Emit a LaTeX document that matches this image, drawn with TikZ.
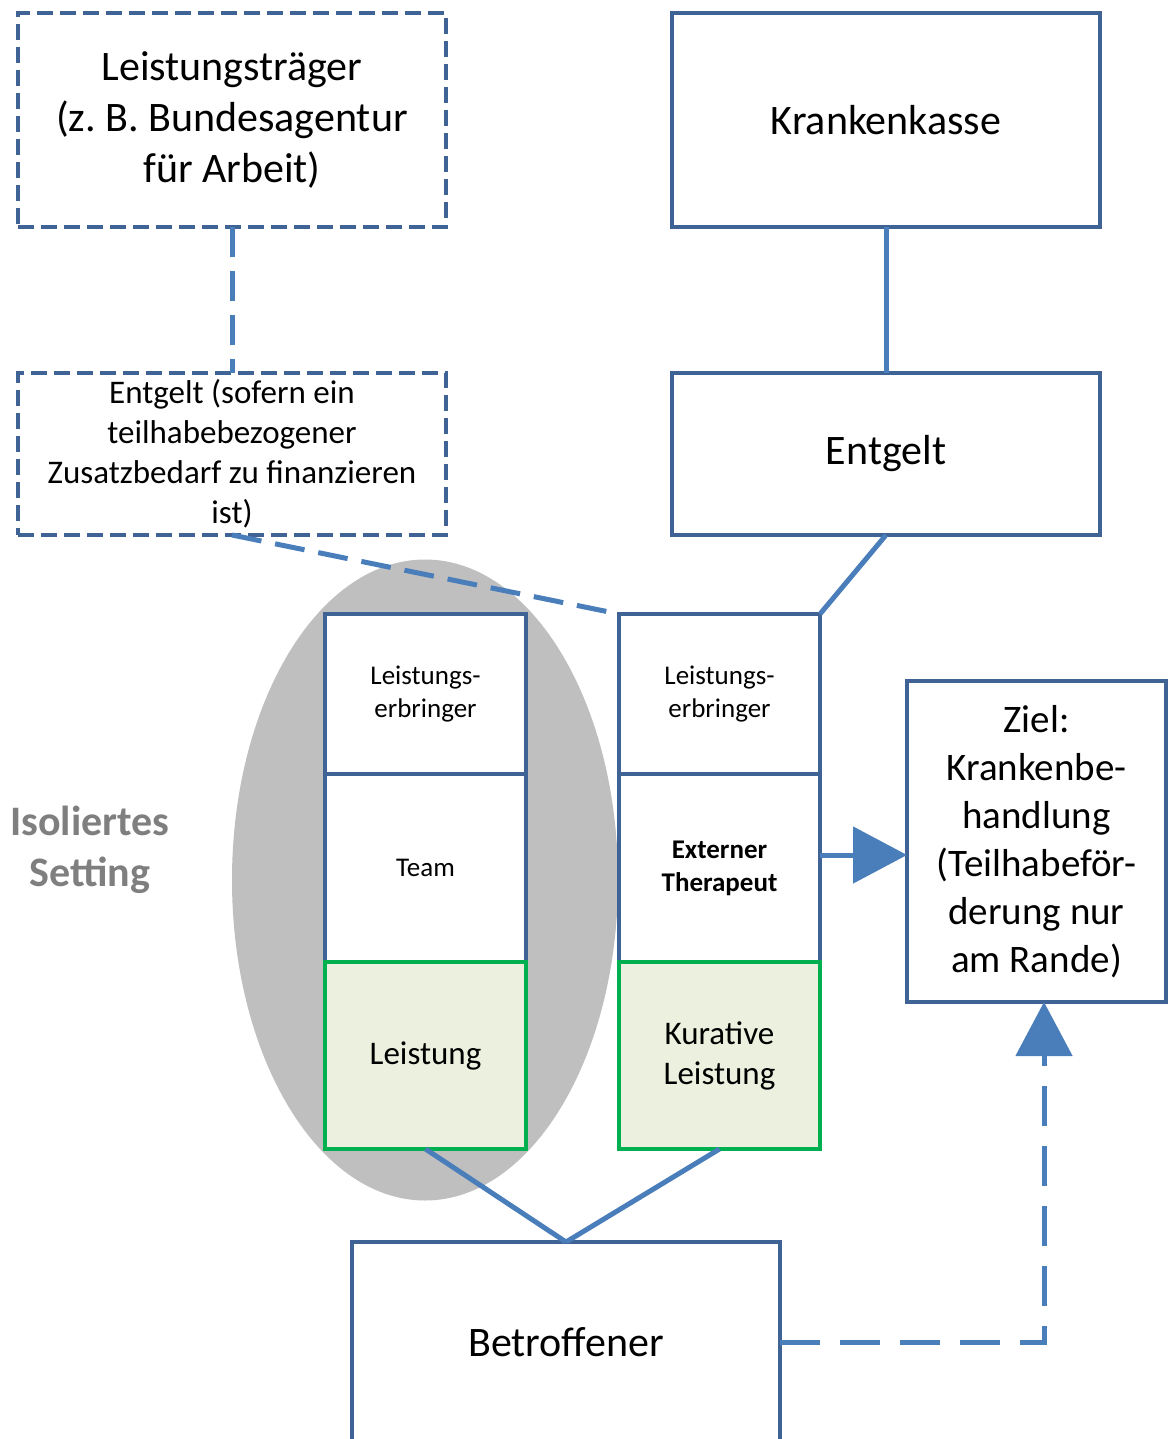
\documentclass[tikz,border=0pt]{standalone}
\usepackage{fontspec}
\setmainfont{Carlito}
\usetikzlibrary{positioning,arrows.meta,shapes.geometric}
\frenchspacing

\definecolor{rahmenblau}{HTML}{3F6394}
\definecolor{linienblau}{HTML}{4A7EBB}
\definecolor{ovalgrau}{HTML}{BFBFBF}
\definecolor{leistgruen}{HTML}{00B050}
\definecolor{leistfill}{HTML}{EBF1DE}
\definecolor{settinggrau}{HTML}{7F7F7F}

\tikzset{
  kasten/.style={draw=rahmenblau, line width=2pt, align=center, inner sep=0pt,
    outer sep=0pt, minimum width=214pt},
  gestrichelt/.style={dash pattern=on 8pt off 3.5pt},
  spalte/.style={kasten, minimum width=100.5pt},
  leistkasten/.style={spalte, draw=leistgruen, fill=leistfill},
  verbindung/.style={draw=linienblau, line width=2.5pt},
  strichverb/.style={verbindung, dash pattern=on 15pt off 7pt},
  gross/.style={font=\fontsize{21}{25.5}\selectfont},
  mittel/.style={font=\fontsize{16.5}{20}\selectfont},
  klein/.style={font=\fontsize{13.5}{16.5}\selectfont},
  pfeil/.style={-{Triangle[width=28pt,length=27pt]}}
}

\begin{document}
\begin{tikzpicture}[x=0.5pt, y=-0.5pt]
  \useasboundingbox (0,0) rectangle (1168,1439);

  % obere Reihe
  \node [kasten, gestrichelt, minimum height=107pt, gross] (traeger) at (232,120)
    {Leistungsträger\\(z. B. Bundesagentur\\für Arbeit)};
  \node [kasten, minimum height=107pt, gross] (kasse) at (886,120) {Krankenkasse};
  \node [kasten, gestrichelt, minimum height=81pt, mittel] (entgeltL) at (232,454)
    {Entgelt (sofern ein\\teilhabebezogener\\Zusatzbedarf zu finanzieren\\ist)};
  \node [kasten, minimum height=81pt, gross] (entgeltR) at (886,454) {Entgelt};

  % isoliertes Setting
  \node [ellipse, fill=ovalgrau, minimum width=193pt, minimum height=320.5pt] (oval) at (425,880) {};
  \node [font=\fontsize{21}{25.5}\selectfont\bfseries, text=settinggrau, align=center] (setting) at (90,850)
    {Isoliertes\\Setting};

  \node [spalte, fill=white, minimum height=80pt, klein] (erbL) at (425.5,694) {Leistungs-\\erbringer};
  \node [spalte, fill=white, minimum height=94pt, klein] (team) [below=0pt of erbL] {Team};
  \node [leistkasten, minimum height=93.5pt, mittel] (leistL) [below=0pt of team] {Leistung};

  \node [spalte, minimum height=80pt, klein] (erbR) at (719.5,694) {Leistungs-\\erbringer};
  \node [spalte, minimum height=94pt, klein, font=\fontsize{13.5}{16.5}\selectfont\bfseries] (therR) [below=0pt of erbR] {Externer\\Therapeut};
  \node [leistkasten, minimum height=93.5pt, mittel] (leistR) [below=0pt of therR] {Kurative\\Leistung};

  \node [kasten, minimum width=129.5pt, minimum height=160.5pt, font=\fontsize{19.5}{24}\selectfont] (ziel) at (1036.5,841.5)
    {Ziel:\\Krankenbe-\\handlung\\(Teilhabeför-\\derung nur\\am Rande)};

  \node [kasten, minimum height=100pt, gross] (betr) at (566,1342) {Betroffener};
  \coordinate (knick) at (1044,1342);
  \coordinate (pfeilhoehe) at (0,855);

  % Verbindungen
  \draw [verbindung] (kasse.south) -- (entgeltR.north);
  \draw [strichverb] (traeger.south) -- (entgeltL.north);
  \draw [strichverb] (entgeltL.south) -- (erbR.north west);
  \draw [verbindung] (entgeltR.south) -- (erbR.north east);
  \draw [verbindung, pfeil] (therR.east |- pfeilhoehe) -- (ziel.west |- pfeilhoehe);
  \draw [verbindung] (leistL.south) -- (betr.north);
  \draw [verbindung] (leistR.south) -- (betr.north);
  \draw [verbindung, dash pattern=on 20pt off 10pt, pfeil]
    (betr.east) -- (knick) -- (knick |- ziel.south);
\end{tikzpicture}
\end{document}
